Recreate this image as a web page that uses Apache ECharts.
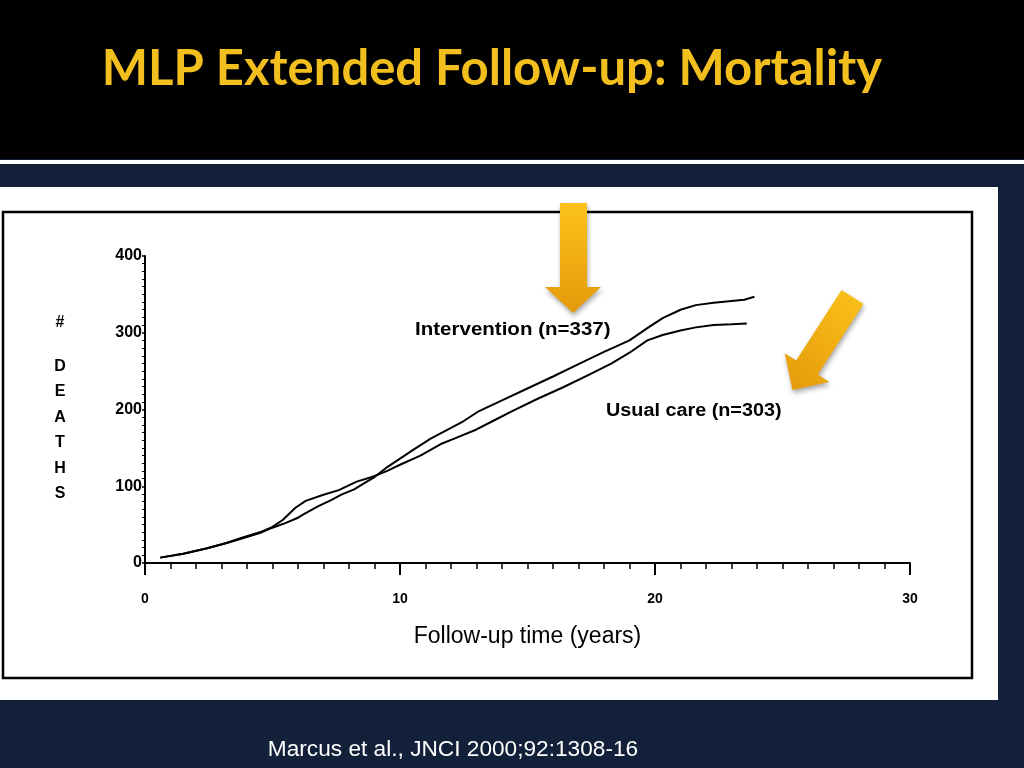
<!DOCTYPE html>
<html><head><meta charset="utf-8">
<script src="https://cdn.jsdelivr.net/npm/echarts@6/dist/echarts.min.js"></script>
<style>html,body{margin:0;padding:0;background:#132039;}#c{width:1024px;height:768px;}</style>
</head><body><div id="c"></div>
<script>
// Follow-up time (years), cumulative number of deaths
const intervention = [
  [0.6,7],[1.5,12],[2.4,19],[3.2,26],[3.8,32],[4.5,39],[5.0,46],[5.5,52],[6.0,59],[6.3,65],
  [6.8,74],[7.3,82],[7.7,89],[8.2,96],[8.7,106],[9.0,112],[9.5,125],[10,136],[10.5,147],
  [11.2,162],[12,176],[12.5,185],[13.1,198],[14,212],[15.1,229],[16,243],[17,259],[18,275],
  [19,290],[19.7,306],[20.3,319],[21,330],[21.6,336],[22.3,339],[22.9,341],[23.5,343],[23.9,347]
];
const usualCare = [
  [0.6,7],[1.5,12],[2.4,19],[3.2,26],[3.8,33],[4.5,40],[5.0,47],[5.4,56],[5.9,72],[6.3,81],
  [7.0,89],[7.6,95],[8.3,106],[8.9,112],[9.5,120],[10,128],[10.8,140],[11.6,155],[12.2,163],
  [13,174],[13.7,186],[14.4,198],[15.4,214],[16.4,229],[17.4,245],[18.3,260],[19,274],
  [19.7,290],[20.3,297],[21,303],[21.6,307],[22.3,310],[23,311],[23.6,312]
];
const seriesNames = ['Intervention (n=337)', 'Usual care (n=303)'];
const yAxisLetters = ['#', 'D', 'E', 'A', 'T', 'H', 'S'];
const xAxisTitle = 'Follow-up time (years)';
const titleText = 'MLP Extended Follow-up: Mortality';
const sourceText = 'Marcus et al., JNCI 2000;92:1308-16';

const chart = echarts.init(document.getElementById('c'));
const arrowFill = {type:'linear', x:0, y:0, x2:0, y2:1, colorStops:[{offset:0,color:'#fcc21a'},{offset:1,color:'#e49a0b'}]};
const arrowFill2 = {type:'linear', x:1, y:0, x2:0, y2:1, colorStops:[{offset:0,color:'#fcc21a'},{offset:1,color:'#e49a0b'}]};
const arrowShadow = {shadowBlur:5, shadowColor:'rgba(0,0,0,0.35)', shadowOffsetX:1, shadowOffsetY:3};

// vertical axis title, one letter per line
const letterY = [323, 367, 392, 418, 443, 469, 494];
const letterEls = yAxisLetters.map((ch, i) => ({
  type:'text', z:10, x:60, y:letterY[i],
  style:{text:ch, x:0, y:0, textAlign:'center', textVerticalAlign:'middle', fill:'#000', font:'bold 16px "Liberation Sans"'}
}));

const option = {
  backgroundColor: '#132039',
  animation: false,
  title: {
    text: titleText, left: 487, top: 40, textAlign: 'center',
    textStyle: {color:'#f2bf1e', fontFamily:'Lato', fontWeight:'bold', fontSize:49}
  },
  grid: {left:145, right:114, top:256, bottom:205},
  xAxis: {
    type:'value', min:0, max:30, interval:10,
    name: xAxisTitle, nameLocation:'middle', nameGap:62,
    nameTextStyle: {color:'#000', fontFamily:'Liberation Sans', fontSize:23},
    axisLine: {lineStyle:{color:'#000', width:2}},
    axisTick: {length:12, lineStyle:{color:'#000', width:2}},
    minorTick: {show:true, splitNumber:10, length:6, lineStyle:{color:'#000', width:1.5}},
    splitLine: {show:false},
    axisLabel: {color:'#000', fontFamily:'Liberation Sans', fontWeight:'bold', fontSize:14, margin:29}
  },
  yAxis: {
    type:'value', min:0, max:400, interval:100,
    axisLine: {show:true, lineStyle:{color:'#000', width:2}},
    axisTick: {show:true, length:3, lineStyle:{color:'#000', width:1.5}},
    minorTick: {show:true, splitNumber:10, length:3, lineStyle:{color:'#000', width:1}},
    splitLine: {show:false},
    axisLabel: {color:'#000', fontFamily:'Liberation Sans', fontWeight:'bold', fontSize:16, margin:3}
  },
  series: [
    {name: seriesNames[0], type:'line', data: intervention, showSymbol:false, smooth:false,
     lineStyle:{color:'#000', width:2}, z:5},
    {name: seriesNames[1], type:'line', data: usualCare, showSymbol:false, smooth:false,
     lineStyle:{color:'#000', width:2}, z:5}
  ],
  graphic: [
    {type:'rect', z:-10, silent:true, shape:{x:0,y:0,width:1024,height:159}, style:{fill:'#000'}},
    {type:'rect', z:-10, silent:true, shape:{x:0,y:160,width:1024,height:4}, style:{fill:'#fff'}},
    {type:'rect', z:-10, silent:true, shape:{x:0,y:187,width:998,height:513}, style:{fill:'#fff'}},
    {type:'rect', z:-5, silent:true, shape:{x:3,y:212,width:969,height:466}, style:{fill:null, stroke:'#000', lineWidth:2.5}},
    ...letterEls,
    {type:'text', z:10, x:415, y:330, scaleX:1.14, style:{text: seriesNames[0], x:0, y:0, textVerticalAlign:'middle',
      fill:'#000', font:'bold 18px "Liberation Sans"'}},
    {type:'text', z:10, x:606, y:411, scaleX:1.1, style:{text: seriesNames[1], x:0, y:0, textVerticalAlign:'middle',
      fill:'#000', font:'bold 18px "Liberation Sans"'}},
    {type:'polygon', z:20, shape:{points:[[560,203],[587,203],[587,287],[601,287],[573,313],[545,287],[560,287]]},
      style:Object.assign({fill:arrowFill}, arrowShadow)},
    {type:'polygon', z:20, shape:{points:[[841.6,290],[863.4,304],[817.9,374.6],[829.3,382],[792.5,390],[784.7,353.2],[796.1,360.6]]},
      style:Object.assign({fill:arrowFill2}, arrowShadow)},
    {type:'text', z:10, x:453, y:750, scaleX:1.03, style:{text: sourceText, x:0, y:0, textAlign:'center', textVerticalAlign:'middle',
      fill:'#fff', font:'22px "Liberation Sans"'}}
  ]
};
chart.setOption(option);
</script>
</body></html>
